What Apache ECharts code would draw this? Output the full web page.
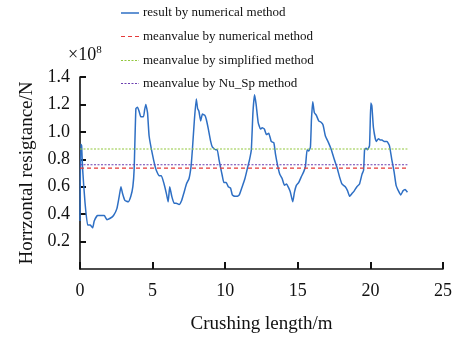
<!DOCTYPE html>
<html>
<head>
<meta charset="utf-8">
<script src="https://cdn.jsdelivr.net/npm/echarts@6/dist/echarts.min.js"></script>
<style>
  html, body { margin: 0; padding: 0; background: #fff; }
  #chart { width: 456px; height: 339px; }
</style>
</head>
<body>
<div id="chart"></div>
<script>
// crushing length (m)
const crushLen = [
  0, 0.05, 0.11, 0.18, 0.34, 0.53, 0.71, 0.87, 0.98, 1.21, 1.44, 1.67, 1.85, 2.08, 2.31, 2.54, 2.7, 2.82, 2.93, 3.09,
  3.32, 3.5, 3.64, 3.73, 3.85, 3.96, 4.07, 4.19, 4.37, 4.45, 4.53, 4.65, 4.76, 5.0, 5.22, 5.45, 5.6, 5.79, 5.95, 6.07,
  6.18, 6.32, 6.48, 6.63, 6.82, 7.0, 7.17, 7.33, 7.51, 7.65, 7.74, 7.88, 8.01, 8.1, 8.19, 8.31, 8.43, 8.6, 8.7, 8.84,
  9.0, 9.11, 9.34, 9.45, 9.57, 9.68, 9.8, 9.91, 10.07, 10.21, 10.37, 10.49, 10.65, 10.81, 10.97, 11.17, 11.36, 11.52, 11.68, 11.8,
  11.91, 12.02, 12.13, 12.27, 12.43, 12.55, 12.7, 12.84, 13.0, 13.17, 13.35, 13.46, 13.62, 13.76, 13.92, 14.08, 14.22, 14.38, 14.49, 14.65,
  14.77, 14.9, 15.06, 15.23, 15.41, 15.53, 15.64, 15.75, 15.87, 15.94, 16.03, 16.14, 16.28, 16.44, 16.6, 16.74, 16.9, 17.12, 17.31, 17.51,
  17.7, 17.88, 18.04, 18.27, 18.43, 18.57, 18.73, 18.89, 19.07, 19.25, 19.42, 19.53, 19.6, 19.7, 19.8, 19.94, 20.03, 20.1, 20.21, 20.4,
  20.56, 20.67, 20.8, 20.95, 21.14, 21.31, 21.47, 21.63, 21.77, 21.93, 22.09, 22.25, 22.39, 22.55
]
// horizontal resistance (x10^8 N), result by numerical method
const resistance = [
  0.35, 0.91, 0.9, 0.73, 0.49, 0.32, 0.32, 0.3, 0.35, 0.39, 0.39, 0.39, 0.36, 0.37, 0.39, 0.44, 0.53, 0.6, 0.55, 0.5,
  0.49, 0.53, 0.6, 0.73, 1.17, 1.18, 1.15, 1.11, 1.11, 1.16, 1.2, 1.14, 0.97, 0.83, 0.73, 0.68, 0.68, 0.62, 0.55, 0.49,
  0.6, 0.53, 0.48, 0.48, 0.47, 0.5, 0.56, 0.62, 0.66, 0.75, 0.87, 1.09, 1.24, 1.17, 1.15, 1.08, 1.13, 1.12, 1.09, 1.02,
  0.93, 0.89, 0.87, 0.87, 0.8, 0.74, 0.68, 0.63, 0.63, 0.6, 0.59, 0.54, 0.53, 0.53, 0.54, 0.6, 0.66, 0.73, 0.8, 0.87,
  1.14, 1.27, 1.2, 1.07, 1.02, 1.03, 1.02, 0.98, 0.99, 0.93, 0.92, 0.84, 0.75, 0.69, 0.66, 0.61, 0.62, 0.59, 0.56, 0.49,
  0.56, 0.61, 0.63, 0.67, 0.71, 0.75, 0.87, 0.86, 0.89, 1.09, 1.22, 1.14, 1.12, 1.08, 1.07, 1.05, 0.97, 0.92, 0.87, 0.8,
  0.74, 0.67, 0.62, 0.6, 0.57, 0.53, 0.55, 0.57, 0.6, 0.62, 0.69, 0.72, 0.87, 0.88, 0.87, 0.9, 1.21, 1.19, 1.03, 0.93,
  0.95, 0.94, 0.94, 0.93, 0.93, 0.9, 0.8, 0.71, 0.61, 0.57, 0.54, 0.57, 0.58, 0.56
]
// mean values (x10^8 N)
const meanNumerical = 0.735
const meanSimplified = 0.875
const meanNuSp = 0.76
const meanRange = [0, 22.55]

const seriesNames = [
  'result by numerical method',
  'meanvalue by numerical method',
  'meanvalue by simplified method',
  'meanvalue by Nu_Sp method'
]
const seriesColors = ['#2e6fc4', '#e53a3a', '#92c83e', '#6b3fb0']
const seriesDash = ['solid', [4, 3], [2, 1.5], [2, 1.5]]

const serif = '"Liberation Serif", "DejaVu Serif", serif'

const chart = echarts.init(document.getElementById('chart'))

function meanLine(i, value) {
  return {
    name: seriesNames[i],
    type: 'line',
    symbol: 'none',
    data: meanRange.map((x) => [x, value]),
    lineStyle: { color: seriesColors[i], width: 1.2, type: seriesDash[i] },
    itemStyle: { color: seriesColors[i] },
    z: 3
  }
}

// legend drawn by hand (line sample + label), rows stacked top-down
const legendRowsY = [13, 36.5, 60.5, 83.5]
const legendGraphics = []
seriesNames.forEach((name, i) => {
  legendGraphics.push({
    type: 'line',
    shape: { x1: 121, y1: legendRowsY[i], x2: 139, y2: legendRowsY[i] },
    style: { stroke: seriesColors[i], lineWidth: i === 0 ? 1.5 : 1.2, lineDash: i === 0 ? null : seriesDash[i] }
  })
  legendGraphics.push({
    type: 'text',
    x: 143,
    y: legendRowsY[i],
    style: { text: name, fontFamily: serif, fontSize: 13, fill: '#111', verticalAlign: 'middle' }
  })
})

const tickStyle = { color: '#111', width: 2 }

const option = {
  animation: false,
  backgroundColor: '#fff',
  grid: {
    left: 80,
    right: 13,
    top: 77,
    bottom: 67
  },
  graphic: [
    ...legendGraphics,
    {
      type: 'text',
      left: 68,
      top: 45,
      style: {
        text: '{a|×10}{b|8}',
        rich: {
          a: { fontFamily: serif, fontSize: 18, fill: '#111' },
          b: { fontFamily: serif, fontSize: 11, fill: '#111', verticalAlign: 'top', padding: [0, 0, 10, 0] }
        }
      }
    }
  ],
  xAxis: {
    type: 'value',
    min: 0,
    max: 25,
    interval: 5,
    name: 'Crushing length/m',
    nameLocation: 'middle',
    nameGap: 46,
    nameTextStyle: { fontFamily: serif, fontSize: 19, color: '#111' },
    axisLine: { lineStyle: { color: '#111', width: 1.6 } },
    axisTick: { show: true, inside: true, length: 7, lineStyle: tickStyle },
    axisLabel: { fontFamily: serif, fontSize: 18, color: '#111', margin: 13 },
    splitLine: { show: false }
  },
  yAxis: {
    type: 'value',
    min: 0,
    max: 1.4,
    interval: 0.2,
    name: 'Horrzontal resigtance/N',
    nameLocation: 'middle',
    nameGap: 43,
    nameTextStyle: { fontFamily: serif, fontSize: 19, color: '#111' },
    axisLine: { show: true, lineStyle: { color: '#111', width: 1.6 } },
    axisTick: { show: true, inside: true, length: 6, lineStyle: tickStyle },
    axisLabel: {
      fontFamily: serif,
      fontSize: 18,
      color: '#111',
      margin: 10,
      showMinLabel: false,
      formatter: (v) => v.toFixed(1)
    },
    splitLine: { show: false }
  },
  series: [
    {
      name: seriesNames[0],
      type: 'line',
      symbol: 'none',
      smooth: 0.15,
      data: crushLen.map((x, i) => [x, resistance[i]]),
      lineStyle: { color: seriesColors[0], width: 1.5 },
      itemStyle: { color: seriesColors[0] },
      z: 2
    },
    meanLine(1, meanNumerical),
    meanLine(2, meanSimplified),
    meanLine(3, meanNuSp)
  ]
}

chart.setOption(option)
</script>
</body>
</html>
